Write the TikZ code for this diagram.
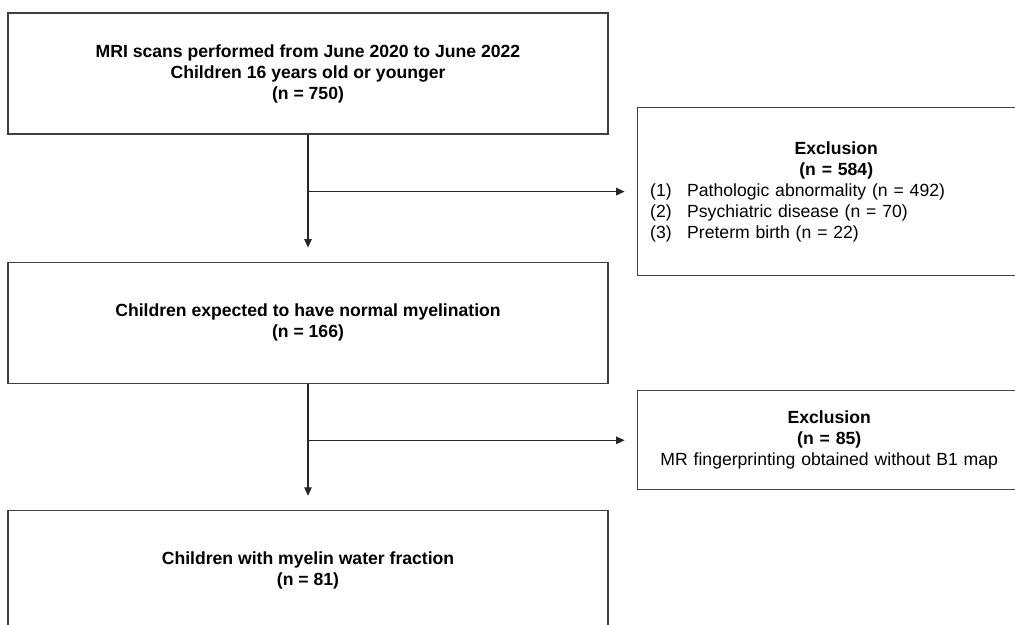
\documentclass[tikz,border=0pt]{standalone}
\usepackage{fontspec}
\setmainfont{Liberation Sans}
\usetikzlibrary{arrows.meta,positioning}

\begin{document}
\begin{tikzpicture}[
  x=1pt, y=-1pt,
  stage/.style={
    draw=black!75,
    line width=1.2pt,
    minimum width=600pt,
    minimum height=121pt,
    align=center,
    font=\fontsize{17.6}{21}\selectfont\bfseries
  },
  exclbox/.style={
    draw=black!75,
    line width=1.2pt,
    inner xsep=13pt,
    align=left,
    font=\fontsize{17.6}{21}\selectfont
  },
  arrow/.style={-{Triangle[length=8.5pt,width=7.5pt]},line width=1.1pt,black!85}
]
  \useasboundingbox (0,0) rectangle (1015,624);
  \node[stage] (scans) at (308,73.5) {MRI scans performed from June 2020 to June 2022\\Children 16 years old or younger\\(n = 750)};
  \node[stage,below=127pt of scans] (normal) {Children expected to have normal myelination\\(n = 166)};
  \node[stage,below=126pt of normal] (mwf) {Children with myelin water fraction\\(n = 81)};
  \node[exclbox,text width=372pt,minimum height=168pt,anchor=west] (excl1) at ([xshift=28pt,yshift=-57pt]scans.south east) {%
    \makebox[\hsize]{\bfseries Exclusion}\\
    \makebox[\hsize]{\bfseries (n = 584)}\\
    \makebox[37pt][l]{(1)}Pathologic abnormality (n = 492)\\
    \makebox[37pt][l]{(2)}Psychiatric disease (n = 70)\\
    \makebox[37pt][l]{(3)}Preterm birth (n = 22)};
  \node[exclbox,text width=358pt,minimum height=99pt,anchor=west] (excl2) at ([xshift=28pt,yshift=-56.5pt]normal.south east) {%
    \makebox[\hsize]{\bfseries Exclusion}\\
    \makebox[\hsize]{\bfseries (n = 85)}\\
    \makebox[\hsize]{MR fingerprinting obtained without B1 map}};
  \coordinate (split1) at (scans.south |- excl1.west);
  \coordinate (split2) at (normal.south |- excl2.west);
  \draw[arrow,shorten >=14pt] (scans) -- (normal);
  \draw[arrow,shorten >=14pt] (normal) -- (mwf);
  \draw[arrow,shorten >=12pt] (split1) -- (excl1);
  \draw[arrow,shorten >=12pt] (split2) -- (excl2);
\end{tikzpicture}
\end{document}
